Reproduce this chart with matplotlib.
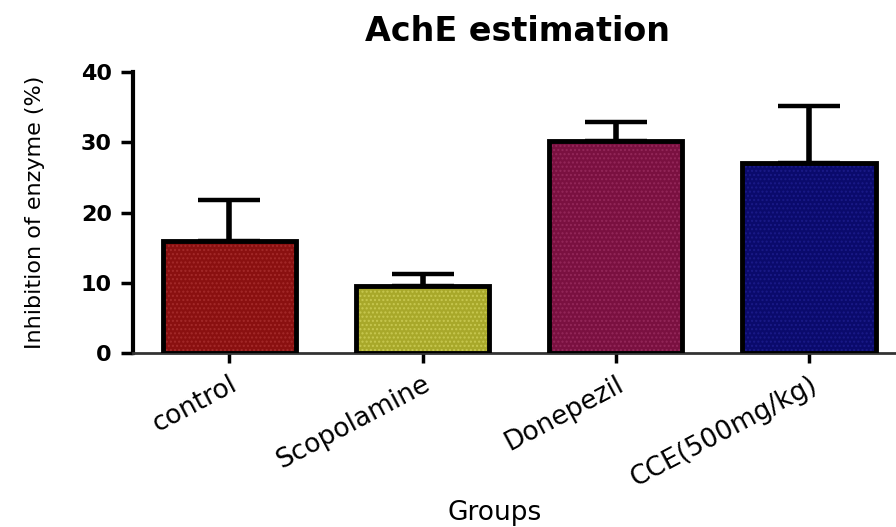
import matplotlib.pyplot as plt

groups = ['control', 'Scopolamine', 'Donepezil', 'CCE(500mg/kg)']
inhibition = [15.9, 9.5, 30.2, 27.1]
sem = [5.9, 1.8, 2.7, 8.1]
fill_colors = ['#8a1010', '#a8a82a', '#7a1040', '#0a0a6c']
dot_colors = ['#a42a2a', '#c8c850', '#94285a', '#1a1a88']

fig = plt.figure(figsize=(8.96, 5.27), dpi=100)
ax = fig.add_axes([0.148, 0.33, 0.852, 0.533])

x = range(len(groups))
# coloured fill with a fine dotted texture, then a heavy black outline on top
ax.bar(x, inhibition, width=0.69, color=fill_colors, edgecolor=dot_colors,
       hatch='....', linewidth=0, zorder=2)
ax.bar(x, inhibition, width=0.69, fill=False, edgecolor='black',
       linewidth=3.5, zorder=3)
ax.errorbar(x, inhibition, yerr=[[0] * len(sem), sem], fmt='none',
            ecolor='black', elinewidth=4, capsize=22, capthick=3.2, zorder=1)

ax.set_ylim(0, 40)
ax.set_xlim(-0.5, 3.45)
ax.set_yticks([0, 10, 20, 30, 40])
ax.set_xticks(list(x))
ax.set_xticklabels(groups, rotation=28, ha='right', va='top',
                   rotation_mode='anchor', fontsize=19)
ax.tick_params(axis='y', labelsize=16, width=2.5, length=9, pad=6)
ax.tick_params(axis='x', width=2.5, length=7, pad=6)
for lab in ax.get_yticklabels():
    lab.set_fontweight('bold')

ax.spines['top'].set_visible(False)
ax.spines['right'].set_visible(False)
ax.spines['left'].set_linewidth(3)
ax.spines['bottom'].set_linewidth(2)
ax.spines['bottom'].set_color('#333333')

ax.set_ylabel('Inhibition of enzyme (%)', fontsize=16)
ax.yaxis.set_label_coords(-0.115, 0.5)
fig.text(0.578, 0.94, 'AchE estimation', fontsize=24, fontweight='bold',
         ha='center', va='center')
fig.text(0.552, 0.013, 'Groups', fontsize=19, ha='center', va='baseline')

fig.savefig('out.png', dpi=100)
